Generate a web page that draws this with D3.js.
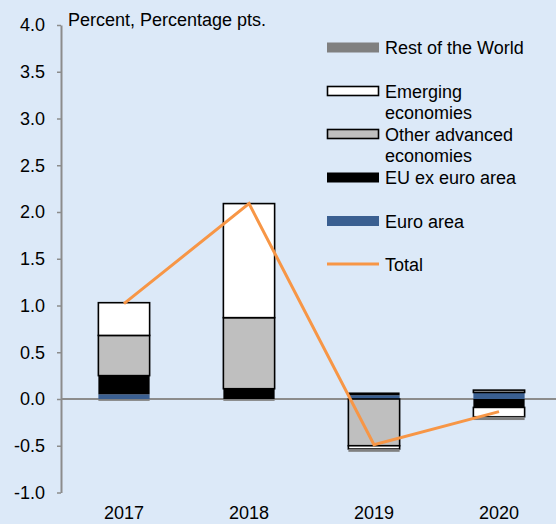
<!DOCTYPE html>
<html><head><meta charset="utf-8">
<script src="https://cdn.jsdelivr.net/npm/d3@7"></script>
<style>
html,body{margin:0;padding:0;background:#dce9f8;}
svg{display:block;font-family:"Liberation Sans",Arial,sans-serif;}
</style></head>
<body>
<svg id="chart" width="556" height="524"></svg>
<script>
// ---- data ----
const years = ["2017", "2018", "2019", "2020"];
const euroArea = [0.05, 0.00, 0.04, 0.07];
const euExEuro = [0.20, 0.11, 0.03, -0.09];
const otherAdvanced = [0.43, 0.76, -0.50, 0.025];
const emerging = [0.35, 1.22, -0.035, -0.10];
const restOfWorld = [-0.02, -0.02, -0.03, -0.035];
const total = [1.02, 2.09, -0.49, -0.135];
const yTicks = [-1.0, -0.5, 0.0, 0.5, 1.0, 1.5, 2.0, 2.5, 3.0, 3.5, 4.0];
const seriesNames = ["Euro area", "EU ex euro area", "Other advanced economies", "Emerging economies", "Rest of the World"];

// ---- styles ----
const styles = {
  "Euro area": {fill: "#3a5f91", stroke: "none"},
  "EU ex euro area": {fill: "#000000", stroke: "none"},
  "Other advanced economies": {fill: "#bfbfbf", stroke: "#000000"},
  "Emerging economies": {fill: "#ffffff", stroke: "#000000"},
  "Rest of the World": {fill: "#808080", stroke: "none"}
};
const seriesValues = [euroArea, euExEuro, otherAdvanced, emerging, restOfWorld];

const svg = d3.select("#chart");
const x = d3.scaleBand().domain(years).range([61.5, 561.5]).paddingInner(0.59).paddingOuter(0.295);
const y = d3.scaleLinear().domain([-1, 4]).range([492.5, 25]);

const table = years.map((yr, i) => {
  const o = {year: yr};
  seriesNames.forEach((s, j) => o[s] = seriesValues[j][i]);
  return o;
});
const stack = d3.stack().keys(seriesNames).offset(d3.stackOffsetDiverging)(table);

// zero line
svg.append("line").attr("x1", 61).attr("x2", 556).attr("y1", y(0)).attr("y2", y(0))
  .attr("stroke", "#8c8c8c").attr("stroke-width", 2);

// bars
stack.forEach(layer => {
  const st = styles[layer.key];
  svg.append("g").selectAll("rect").data(layer).join("rect")
    .attr("x", d => x(d.data.year))
    .attr("width", x.bandwidth())
    .attr("y", d => y(Math.max(d[0], d[1])))
    .attr("height", d => Math.abs(y(d[0]) - y(d[1])))
    .attr("fill", st.fill)
    .attr("stroke", st.stroke)
    .attr("stroke-width", st.stroke === "none" ? 0 : 1.6);
});

// total line
svg.append("path").datum(total)
  .attr("fill", "none").attr("stroke", "#f79646").attr("stroke-width", 3)
  .attr("d", d3.line().x((d, i) => x(years[i]) + x.bandwidth() / 2).y(d => y(d)));

// y axis
const yAxis = d3.axisLeft(y).tickValues(yTicks).tickFormat(d3.format(".1f")).tickSize(4).tickPadding(12).tickSizeOuter(0);
const ga = svg.append("g").attr("transform", "translate(61,0)").call(yAxis);
ga.select(".domain").attr("stroke", "#8c8c8c").attr("stroke-width", 2);
ga.selectAll(".tick line").attr("stroke", "#8c8c8c").attr("stroke-width", 1.5);
ga.selectAll(".tick text").attr("font-size", 18).attr("fill", "#000")
  .attr("font-family", "Liberation Sans, Arial, sans-serif").text(d => d3.format(".1f")(d).replace("\u2212", "-"));

// x labels
svg.append("g").selectAll("text").data(years).join("text")
  .attr("x", d => x(d) + x.bandwidth() / 2).attr("y", 519)
  .attr("text-anchor", "middle").attr("font-size", 18).text(d => d);

// unit label
svg.append("text").attr("x", 68).attr("y", 26).attr("font-size", 18).text("Percent, Percentage pts.");

// legend
const legendItems = [
  {name: "Rest of the World", lines: ["Rest of the World"], y: 47.5},
  {name: "Emerging economies", lines: ["Emerging", "economies"], y: 91},
  {name: "Other advanced economies", lines: ["Other advanced", "economies"], y: 134},
  {name: "EU ex euro area", lines: ["EU ex euro area"], y: 177.5},
  {name: "Euro area", lines: ["Euro area"], y: 221},
  {name: "Total", lines: ["Total"], y: 264}
];
const lg = svg.append("g");
legendItems.forEach(it => {
  if (it.name === "Total") {
    lg.append("line").attr("x1", 327).attr("x2", 379).attr("y1", it.y).attr("y2", it.y)
      .attr("stroke", "#f79646").attr("stroke-width", 3);
  } else {
    const st = styles[it.name];
    const hasStroke = st.stroke !== "none";
    lg.append("rect").attr("x", hasStroke ? 327.5 : 327).attr("y", it.y - (hasStroke ? 4.5 : 5))
      .attr("width", hasStroke ? 51 : 52).attr("height", hasStroke ? 9 : 10)
      .attr("fill", st.fill).attr("stroke", st.stroke).attr("stroke-width", hasStroke ? 1.6 : 0);
  }
  it.lines.forEach((ln, k) => {
    lg.append("text").attr("x", 385).attr("y", it.y + 6.5 + k * 21.5).attr("font-size", 18).text(ln);
  });
});
</script>
</body></html>
